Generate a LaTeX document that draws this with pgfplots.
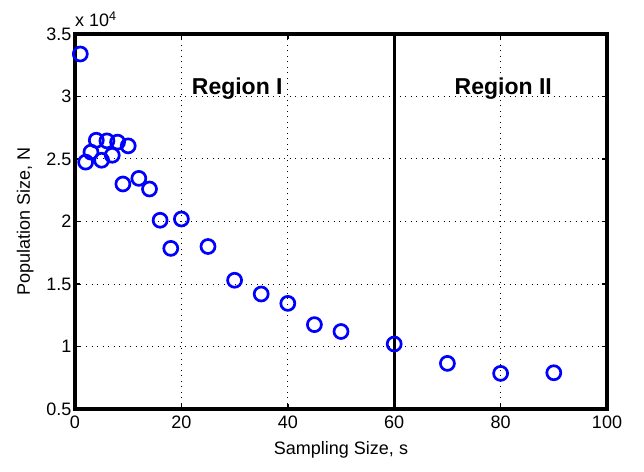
\documentclass[border=0pt]{standalone}
\usepackage{pgfplots}
\pgfplotsset{compat=1.18}
\usepackage{fontspec}
\setmainfont{Liberation Sans}
\begin{document}
\begin{tikzpicture}
\begin{axis}[
    scale only axis,
    width=532pt, height=375pt,
    xmin=0, xmax=100,
    ymin=5000, ymax=35000,
    xtick={0,20,...,100},
    ytick={5000,10000,...,35000},
    scaled y ticks=false,
    yticklabels={0.5,1,1.5,2,2.5,3,3.5},
    /pgf/number format/assume math mode=true,
    tick label style={font=\fontsize{18}{20}\selectfont},
    xticklabel style={yshift=-3pt},
    label style={font=\fontsize{18}{20}\selectfont},
    xlabel={Sampling Size, s},
    ylabel={Population Size, N},
    xlabel style={yshift=-6pt},
    ylabel style={yshift=6pt},
    tick align=inside,
    major tick length=5pt,
    tick style={line width=1.5pt, black},
    grid=major,
    grid style={black, line width=1pt, dash pattern=on 1pt off 4.5pt},
    clip=false,
]
    % measured points
    \addplot[only marks, mark=o, mark size=7pt, blue, line width=2.7pt] coordinates {
        (1,33400) (2,24750) (3,25550) (4,26500) (5,24900)
        (6,26450) (7,25300) (8,26350) (9,23000) (10,26050)
        (12,23450) (14,22600) (16,20100) (18,17850) (20,20200)
        (25,18000) (30,15300) (35,14200) (40,13450) (45,11750)
        (50,11200) (60,10200) (70,8650) (80,7850) (90,7900)
    };
    % region boundary
    \addplot[black, line width=3pt] coordinates {(60,5000) (60,35000)};
    % heavy frame
    \draw[line width=3.2pt, line join=miter] (rel axis cs:0,0) rectangle (rel axis cs:1,1);
    \node[font=\fontsize{23}{25}\selectfont\bfseries] at (axis cs:30.5,30650) {Region I};
    \node[font=\fontsize{23}{25}\selectfont\bfseries] at (axis cs:80.5,30650) {Region II};
    \node[font=\fontsize{18}{20}\selectfont, anchor=south west, inner sep=0pt]
        at ([yshift=7pt]rel axis cs:0,1) {x 10\textsuperscript{4}};
\end{axis}
\path (current axis.south west) ++(-75pt,-62pt);
\path (current axis.north east) ++(37pt,34pt);
\end{tikzpicture}
\end{document}
